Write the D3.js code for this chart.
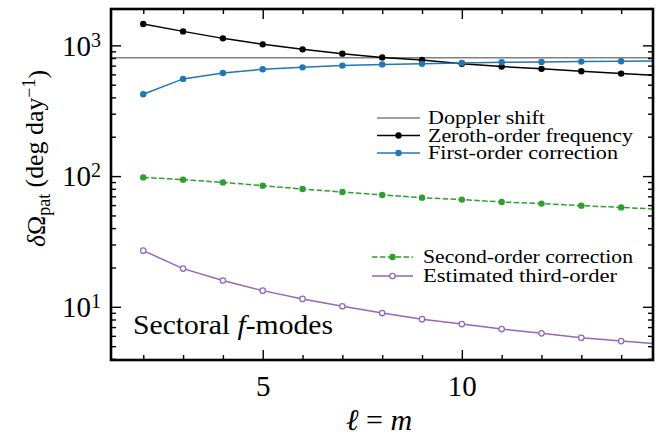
<!DOCTYPE html>
<meta charset="utf-8">
<style>
body { margin: 0; background: #fff; }
text { font-family: "Liberation Serif", serif; fill: #000; }
.axis path { stroke: none; }
.axis line { stroke: #000; stroke-width: 1.4; }
</style>
<body>
<script src="https://d3js.org/d3.v7.min.js"></script>
<script>

// data (l = m = 2..15)
var ell = [2, 3, 4, 5, 6, 7, 8, 9, 10, 11, 12, 13, 14, 15];
var doppler = 805;
var zeroth = [1456, 1279, 1131, 1018, 932, 864, 809, 774, 722, 688, 661, 634, 608, 587];
var first = [423, 554, 615, 656, 679, 700, 715, 722, 734, 742, 746, 751, 755, 760];
var second = [97.7, 93.9, 89.5, 84.5, 79.6, 75.5, 71.8, 68.4, 66.1, 63.4, 61.6, 59.4, 57.6, 55.7];
var third = [26.9, 19.6, 15.9, 13.3, 11.5, 10.1, 8.96, 8.05, 7.38, 6.76, 6.27, 5.80, 5.47, 5.19];

var xMajor = [5, 10];
var xMinor = [2, 3, 4, 6, 7, 8, 9, 11, 12, 13, 14];
var yMajor = [10, 100, 1000];
var yMinor = [4, 5, 6, 7, 8, 9, 20, 30, 40, 50, 60, 70, 80, 90, 200, 300, 400, 500, 600, 700, 800, 900];

// plot box
var margin = {top: 9, right: 10, bottom: 77, left: 111},
    W = 663, H = 437,
    width = W - margin.left - margin.right,
    height = H - margin.top - margin.bottom;

var x = d3.scaleLinear().domain([1.19, 14.8]).range([0, width]);
var y = d3.scaleLog().domain([3.92, 1897]).range([height, 0]);

var svg = d3.select("body").append("svg")
    .attr("width", W)
    .attr("height", H);

var g = svg.append("g")
    .attr("transform", "translate(" + margin.left + "," + margin.top + ")");

g.append("clipPath").attr("id", "clip")
  .append("rect").attr("width", width).attr("height", height);

var plot = g.append("g").attr("clip-path", "url(#clip)");

// doppler shift line
plot.append("line")
    .attr("x1", 0).attr("x2", width)
    .attr("y1", y(doppler)).attr("y2", y(doppler))
    .attr("stroke", "#808080").attr("stroke-width", 1.5);

var series = [
  {vals: zeroth, color: "#000000", dash: null, open: false},
  {vals: first, color: "#1f77b4", dash: null, open: false},
  {vals: second, color: "#2ca02c", dash: "5.5,2.4", open: false},
  {vals: third, color: "#9467bd", dash: null, open: true}
];

var line = d3.line()
    .x(function(d, i) { return x(ell[i]); })
    .y(function(d) { return y(d); });

series.forEach(function(s) {
  plot.append("path")
      .datum(s.vals)
      .attr("fill", "none")
      .attr("stroke", s.color)
      .attr("stroke-width", 1.5)
      .attr("stroke-dasharray", s.dash)
      .attr("d", line);
  plot.selectAll(null)
      .data(s.vals)
      .enter().append("circle")
      .attr("cx", function(d, i) { return x(ell[i]); })
      .attr("cy", function(d) { return y(d); })
      .attr("r", s.open ? 2.7 : 3.2)
      .attr("fill", s.open ? "#fff" : s.color)
      .attr("stroke", s.color)
      .attr("stroke-width", s.open ? 1.3 : 0);
});

// axes, ticks pointing inward
g.append("g").attr("class", "axis")
    .attr("transform", "translate(0," + height + ")")
    .call(d3.axisBottom(x).tickValues(xMinor).tickSize(-5).tickFormat(""));
var xb = g.append("g").attr("class", "axis")
    .attr("transform", "translate(0," + height + ")")
    .call(d3.axisBottom(x).tickValues(xMajor).tickSize(-10).tickPadding(15).tickFormat(d3.format("d")));
xb.selectAll("text").style("font-size", "29px");

g.append("g").attr("class", "axis")
    .call(d3.axisTop(x).tickValues(xMinor).tickSize(-5).tickFormat(""));
g.append("g").attr("class", "axis")
    .call(d3.axisTop(x).tickValues(xMajor).tickSize(-10).tickFormat(""));

g.append("g").attr("class", "axis")
    .call(d3.axisLeft(y).tickValues(yMinor).tickSize(-5).tickFormat(""));
var yl = g.append("g").attr("class", "axis")
    .call(d3.axisLeft(y).tickValues(yMajor).tickSize(-10).tickPadding(10).tickFormat(""));
yl.selectAll(".tick text")
    .attr("dy", "0.34em")
    .style("font-size", "29px")
    .each(function(d) {
      var t = d3.select(this);
      t.append("tspan").text("10");
      t.append("tspan").attr("dy", "-0.45em").style("font-size", "20px").text(Math.round(Math.log10(d)));
    });

g.append("g").attr("class", "axis")
    .attr("transform", "translate(" + width + ",0)")
    .call(d3.axisRight(y).tickValues(yMinor).tickSize(-5).tickFormat(""));
g.append("g").attr("class", "axis")
    .attr("transform", "translate(" + width + ",0)")
    .call(d3.axisRight(y).tickValues(yMajor).tickSize(-10).tickFormat(""));

// frame
g.append("rect")
    .attr("width", width).attr("height", height)
    .attr("fill", "none").attr("stroke", "#000").attr("stroke-width", 2.6);

// axis labels
var xl = svg.append("text")
    .attr("x", 379).attr("y", 430)
    .attr("text-anchor", "middle")
    .style("font-size", "30px");
xl.append("tspan").style("font-style", "italic").text("\u2113");
xl.append("tspan").text(" = ");
xl.append("tspan").style("font-style", "italic").text("m");

var ylab = svg.append("text")
    .attr("transform", "translate(45,247) rotate(-90)")
    .attr("textLength", 177)
    .attr("lengthAdjust", "spacingAndGlyphs")
    .style("font-size", "26px");
ylab.append("tspan").style("font-style", "italic").text("\u03b4");
ylab.append("tspan").text("\u03a9");
ylab.append("tspan").attr("dy", "0.3em").style("font-size", "18px").text("pat");
ylab.append("tspan").attr("dy", "-0.3em").text(" (deg day");
ylab.append("tspan").attr("dy", "-0.45em").style("font-size", "18px").text("\u22121");
ylab.append("tspan").attr("dy", "0.45em").text(")");

// annotation
var ann = svg.append("text")
    .attr("x", 133).attr("y", 334)
    .attr("textLength", 200)
    .attr("lengthAdjust", "spacingAndGlyphs")
    .style("font-size", "28px");
ann.append("tspan").text("Sectoral ");
ann.append("tspan").style("font-style", "italic").text("f");
ann.append("tspan").text("-modes");

// legends
var legend = [
  {name: "Doppler shift", color: "#808080", marker: false, dash: null, open: false, y: 118, w: 117},
  {name: "Zeroth-order frequency", color: "#000000", marker: true, dash: null, open: false, y: 135.5, w: 205},
  {name: "First-order correction", color: "#1f77b4", marker: true, dash: null, open: false, y: 153, w: 190},
  {name: "Second-order correction", color: "#2ca02c", marker: true, dash: "5.5,2.4", open: false, y: 257, w: 210},
  {name: "Estimated third-order", color: "#9467bd", marker: true, dash: null, open: true, y: 276, w: 194}
];

legend.forEach(function(d, i) {
  var x0 = i < 3 ? 377 : 372, x1 = i < 3 ? 420 : 413, tx = i < 3 ? 428 : 423;
  svg.append("line")
      .attr("x1", x0).attr("x2", x1).attr("y1", d.y).attr("y2", d.y)
      .attr("stroke", d.color).attr("stroke-width", 1.5)
      .attr("stroke-dasharray", d.dash);
  if (d.marker) {
    svg.append("circle")
        .attr("cx", (x0 + x1) / 2).attr("cy", d.y)
        .attr("r", d.open ? 2.7 : 3.2)
        .attr("fill", d.open ? "#fff" : d.color)
        .attr("stroke", d.color).attr("stroke-width", d.open ? 1.3 : 0);
  }
  svg.append("text")
      .attr("x", tx).attr("y", d.y)
      .attr("dy", "0.33em")
      .attr("textLength", d.w)
      .attr("lengthAdjust", "spacingAndGlyphs")
      .style("font-size", "19px")
      .text(d.name);
});

</script>
</body>
